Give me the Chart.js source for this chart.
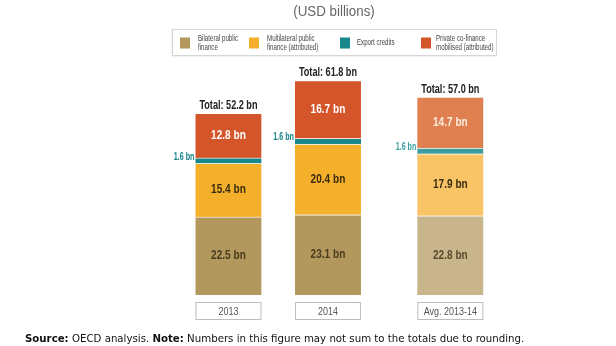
<!DOCTYPE html>
<html><head><meta charset="utf-8">
<script src="https://cdn.jsdelivr.net/npm/chart.js@4"></script>
<style>html,body{margin:0;padding:0;background:#fff;}#wrap{width:616px;height:346px;position:relative;}</style>
</head><body><div id="wrap"><canvas id="c" width="616" height="346"></canvas></div>
<script>
// ---- data ----
const categories = ["2013", "2014", "Avg. 2013-14"];
const bilateral = [22.5, 23.1, 22.8];
const multilateral = [15.4, 20.4, 17.9];
const exportCredits = [1.6, 1.6, 1.6];
const privateCofinance = [12.8, 16.7, 14.7];
const totals = [52.2, 61.8, 57.0];
const seriesNames = [["Bilateral public", "finance"], ["Multilateral public", "finance (attributed)"], ["Export credits"], ["Private co-finance", "mobilised (attributed)"]];
const title = "(USD billions)";
const footBold1 = "Source:", footText1 = " OECD analysis. ", footBold2 = "Note:", footText2 = " Numbers in this figure may not sum to the totals due to rounding.";

// ---- layout (not data) ----
const slot = [0, 1, 2.23];
const colors = {
  bil: ["#B3985D", "#B3985D", "#C8B58B"],
  mul: ["#F4AF2B", "#F4AF2B", "#F8C466"],
  exp: ["#17878A", "#17878A", "#3C9C9E"],
  pri: ["#D5552A", "#D5552A", "#E08051"]
};
const labelColors = ["#4A3B1F", "#3A2C0E", "#138084", "#FFFFFF"];
const SANS = "'Liberation Sans', Arial, sans-serif";

function mk(vals) { return vals.map((v, i) => ({x: slot[i], y: v})); }

const datasets = [
  {label: seriesNames[0].join(" "), data: mk(bilateral), backgroundColor: colors.bil},
  {label: seriesNames[1].join(" "), data: mk(multilateral), backgroundColor: colors.mul},
  {label: seriesNames[2].join(" "), data: mk(exportCredits), backgroundColor: colors.exp},
  {label: seriesNames[3].join(" "), data: mk(privateCofinance), backgroundColor: colors.pri}
].map(d => Object.assign(d, {barThickness: 66, borderWidth: {top: 1}, borderColor: "rgba(255,255,255,0.55)", borderSkipped: false}));

// draw horizontally condensed text (emulates a condensed face)
function cText(ctx, txt, x, y, align, sx) {
  ctx.save();
  ctx.translate(x, y);
  ctx.scale(sx, 1);
  ctx.textAlign = align;
  ctx.fillText(txt, 0, 0);
  ctx.restore();
}

const decor = {
  id: "decor",
  afterDatasetsDraw(chart) {
    const ctx = chart.ctx, xs = chart.scales.x, ys = chart.scales.y;
    ctx.save();
    ctx.textBaseline = "middle";
    // segment labels
    chart.data.datasets.forEach((ds, di) => {
      const meta = chart.getDatasetMeta(di);
      meta.data.forEach((bar, i) => {
        const v = ds.data[i].y;
        const txt = v.toFixed(1) + " bn";
        if (di === 2) {
          ctx.font = "bold 10.5px " + SANS;
          ctx.fillStyle = i === 2 ? "#3A9EA0" : labelColors[2];
          cText(ctx, txt, bar.x - bar.width / 2 - 1, bar.y - 1, "right", 0.68);
        } else {
          ctx.font = "bold 12px " + SANS;
          let c = labelColors[di];
          if (di === 3 && i === 2) c = "#FCEBDD";
          if (di === 0 && i === 2) c = "#5A4A2C";
          ctx.fillStyle = c;
          cText(ctx, txt, bar.x, (bar.y + bar.base) / 2, "center", 0.84);
        }
      });
    });
    // totals
    ctx.font = "bold 12.5px " + SANS;
    ctx.fillStyle = "#222";
    ctx.textBaseline = "alphabetic";
    totals.forEach((t, i) => {
      const px = xs.getPixelForValue(slot[i]);
      const top = ys.getPixelForValue(bilateral[i] + multilateral[i] + exportCredits[i] + privateCofinance[i]);
      cText(ctx, "Total: " + t.toFixed(1) + " bn", px, top - 4, "center", 0.73);
    });
    // category boxes
    ctx.font = "11.5px " + SANS;
    ctx.textBaseline = "middle";
    categories.forEach((c, i) => {
      const px = xs.getPixelForValue(slot[i]);
      const y0 = ys.getPixelForValue(0);
      ctx.fillStyle = "#fff";
      ctx.strokeStyle = "#BDBDBD";
      ctx.lineWidth = 1;
      ctx.fillRect(px - 33, y0 + 7, 66, 17);
      ctx.strokeRect(px - 32.5, y0 + 7.5, 65, 17);
      ctx.fillStyle = "#555";
      cText(ctx, c, px, y0 + 16.5, "center", 0.78);
    });
    // title
    ctx.font = "14.5px " + SANS;
    ctx.fillStyle = "#666";
    cText(ctx, title, 334, 12, "center", 0.92);
    // legend
    ctx.fillStyle = "#fff";
    ctx.shadowColor = "rgba(0,0,0,0.15)";
    ctx.shadowBlur = 2;
    ctx.shadowOffsetY = 1;
    ctx.fillRect(172, 29, 324, 26);
    ctx.shadowColor = "transparent";
    ctx.strokeStyle = "#D6D6D6";
    ctx.strokeRect(172.5, 29.5, 324, 26);
    const swX = [180, 249, 340, 421], txX = [198, 267, 357, 436];
    ctx.font = "8.8px " + SANS;
    chart.data.datasets.forEach((ds, di) => {
      ctx.fillStyle = ds.backgroundColor[0];
      ctx.fillRect(swX[di], 37.5, 10, 11);
      ctx.fillStyle = "#444";
      const lines = seriesNames[di];
      if (lines.length === 1) cText(ctx, lines[0], txX[di], 43, "left", 0.7);
      else { cText(ctx, lines[0], txX[di], 38.5, "left", 0.7); cText(ctx, lines[1], txX[di], 47.5, "left", 0.7); }
    });
    // footnote
    const ff = "'DejaVu Sans', sans-serif";
    let fs = 11;
    const parts = [[footBold1, true], [footText1, false], [footBold2, true], [footText2, false]];
    const measure = s => parts.reduce((w, p) => { ctx.font = (p[1] ? "bold " : "") + s + "px " + ff; return w + ctx.measureText(p[0]).width; }, 0);
    fs = fs * 500 / measure(fs);
    ctx.fillStyle = "#111";
    ctx.textBaseline = "alphabetic";
    ctx.textAlign = "left";
    let x = 25;
    parts.forEach(p => {
      ctx.font = (p[1] ? "bold " : "") + fs + "px " + ff;
      ctx.fillText(p[0], x, 342);
      x += ctx.measureText(p[0]).width;
    });
    ctx.restore();
  }
};

new Chart(document.getElementById("c"), {
  type: "bar",
  data: {datasets},
  options: {
    responsive: false,
    animation: false,
    events: [],
    layout: {padding: {top: 52, bottom: 51, left: 0, right: 0}},
    plugins: {legend: {display: false}, tooltip: {enabled: false}},
    scales: {
      x: {type: "linear", stacked: true, offset: false, min: -2.296, max: 3.895, display: false, grid: {display: false}},
      y: {stacked: true, min: 0, max: 70, display: false, grid: {display: false}}
    }
  },
  plugins: [decor]
});
</script>
</body></html>
